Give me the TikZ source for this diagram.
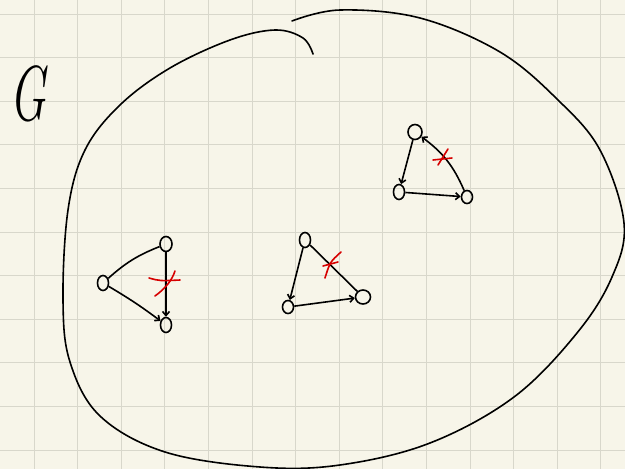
\documentclass[tikz,border=0pt]{standalone}
\usetikzlibrary{arrows.meta,shapes.geometric}
\definecolor{paper}{RGB}{247,245,233}
\definecolor{gridline}{RGB}{216,215,203}
\definecolor{penred}{RGB}{214,0,0}
\begin{document}
\begin{tikzpicture}[x=1pt,y=-1pt,line width=1.6pt,
  vtx/.style={draw,ellipse,minimum width=11pt,minimum height=15pt,inner sep=0pt},
  cut/.style={penred,line width=1.6pt,line cap=round},
  >={Straight Barb[length=4pt,width=7pt]}]
\fill[paper] (0,0) rectangle (625,469);
\useasboundingbox (0,0) rectangle (625,469);
\foreach \k in {0,...,13} \draw[gridline,line width=1pt] (34+43.6*\k,0) -- (34+43.6*\k,469);
\foreach \k in {0,...,10} \draw[gridline,line width=1pt] (0,14+43.6*\k) -- (625,14+43.6*\k);
\draw[line cap=round] plot[smooth,tension=0.6] coordinates {(292,21) (340,10) (420,18) (500,52) (558,100) (600,150) (624,223) (612,277) (577,333) (514,397) (430,443) (340,465) (260,467) (165,452) (100,416) (70,362) (63,300) (68,210) (85,150) (120,105) (170,68) (230,40) (275,30) (303,38) (313,54)};
\node (glabel) at (28,94) {\scalebox{0.62}[1]{\fontsize{78}{78}\selectfont\itshape G}};
\node[vtx] (a1) at (103,283) {};
\node[vtx,minimum width=12pt] (b1) at (166,244) {};
\node[vtx] (c1) at (166,325) {};
\draw (a1) to[bend left=10] (b1);
\draw[->] (a1) to[bend left=3] (c1);
\draw[->] (b1) -- (c1);
\draw[cut] (149,278) .. controls (160,281) .. (180,280);
\draw[cut] (155,296) .. controls (166,288) and (172,280) .. (175,271);
\node[vtx] (a2) at (305,240) {};
\node[vtx,minimum height=13pt] (b2) at (288,307) {};
\node[vtx,minimum width=15pt,minimum height=14pt] (c2) at (363,297) {};
\draw[->] (a2) -- (b2);
\draw[->] (b2) -- (c2);
\draw (a2) -- (c2);
\draw[cut] (325,278) .. controls (330,262) .. (341,252);
\draw[cut] (323,266) -- (338,262);
\node[vtx,minimum width=14pt] (a3) at (415,132) {};
\node[vtx] (b3) at (399,192) {};
\node[vtx,minimum height=13pt] (c3) at (467,197) {};
\draw[->] (a3) -- (b3);
\draw[->] (b3) -- (c3);
\draw[->] (c3) to[bend right=15] (a3);
\draw[cut] (433,160) -- (452,158);
\draw[cut] (438,165) .. controls (443,157) .. (448,149);
\end{tikzpicture}
\end{document}
